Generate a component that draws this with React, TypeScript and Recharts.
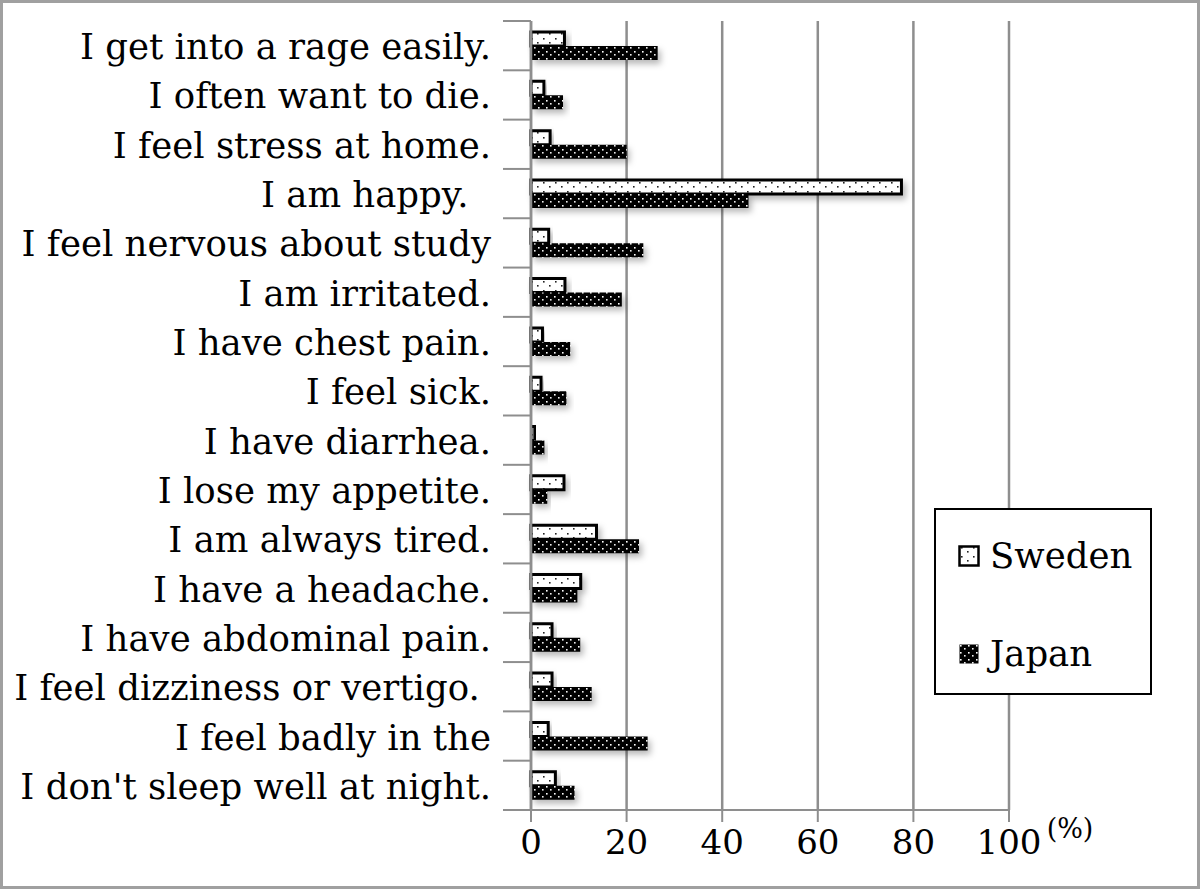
import { Bar, BarChart, CartesianGrid, Label, Legend, XAxis, YAxis } from "recharts";

const items = [
  "I get into a rage easily.",
  "I often want to die.",
  "I feel stress at home.",
  "I am happy.  ",
  "I feel nervous about study",
  "I am irritated.",
  "I have chest pain.",
  "I feel sick.",
  "I have diarrhea.",
  "I lose my appetite.",
  "I am always tired.",
  "I have a headache.",
  "I have abdominal pain.",
  "I feel dizziness or vertigo. ",
  "I feel badly in the",
  "I don't sleep well at night.",
];
const sweden = [7, 2.7, 4, 77.5, 3.7, 7.1, 2.4, 2.1, 0.8, 6.9, 13.7, 10.4, 4.4, 4.4, 3.6, 5.1];
const japan = [26.5, 6.7, 20, 45.5, 23.5, 19, 8.2, 7.4, 2.8, 3.4, 22.6, 9.7, 10.3, 12.7, 24.4, 9.1];
const xTicks = [0, 20, 40, 60, 80, 100];

const data = items.map((label, i) => ({ label, sweden: sweden[i], japan: japan[i] }));

const W = 1200;
const H = 889;
const TOP = 21;
const BOTTOM_AXIS = 60;
const BOTTOM_MARGIN = 19;
const BAND = (H - TOP - BOTTOM_AXIS - BOTTOM_MARGIN) / items.length;
const FONT = "'DejaVu Serif', serif";
const GRID = "#8e8e8e";

function CategoryTick(props: any) {
  const { x, y, payload, index } = props;
  const right = x + 40;
  return (
    <g>
      <text
        x={x}
        y={y + 1}
        textAnchor="end"
        dominantBaseline="central"
        fontSize={35.5}
        fontFamily={FONT}
        fill="#000"
        style={{ whiteSpace: "pre" }}
      >
        {payload.value}
      </text>
      <line x1={right - 28} x2={right} y1={y - BAND / 2} y2={y - BAND / 2} stroke={GRID} strokeWidth={2} />
      {index === items.length - 1 && (
        <line x1={right - 28} x2={right} y1={y + BAND / 2} y2={y + BAND / 2} stroke={GRID} strokeWidth={2} />
      )}
    </g>
  );
}

function LegendBox() {
  const rows = [
    { name: "Sweden", fill: "url(#swedenDots)", stroke: "#000" },
    { name: "Japan", fill: "url(#japanDots)", stroke: "none" },
  ];
  return (
    <div style={{ fontFamily: FONT, fontSize: 35.5, color: "#000" }}>
      {rows.map((r, i) => (
        <div key={r.name} style={{ display: "flex", alignItems: "center", position: "absolute", left: 22, top: i === 0 ? 25 : 123 }}>
          <svg width={22} height={22} style={{ marginRight: 10 }}>
            <rect x={1.5} y={1.5} width={19} height={19} fill={r.fill} stroke={r.stroke} strokeWidth={2.5} />
          </svg>
          <span>{r.name}</span>
        </div>
      ))}
    </div>
  );
}

function PercentLabel(props: any) {
  const { viewBox } = props;
  return (
    <text x={viewBox.x + viewBox.width + 61} y={viewBox.y + 28} textAnchor="middle" fontSize={27} fontFamily={FONT} fill="#000">
      (%)
    </text>
  );
}

export default function App() {
  return (
    <div style={{ position: "absolute", left: 0, top: 0, width: W, height: H, background: "#fff" }}>
      <BarChart
        width={W}
        height={H}
        data={data}
        layout="vertical"
        barSize={14}
        barGap={0}
        margin={{ top: TOP, right: 191, left: 0, bottom: BOTTOM_MARGIN }}
      >
        <defs>
          <pattern id="swedenDots" width="12" height="9" patternUnits="userSpaceOnUse">
            <rect width="12" height="9" fill="#fff" />
            <rect x="3" y="2" width="1.6" height="1.6" fill="#222" />
            <rect x="9" y="6" width="1.6" height="1.6" fill="#222" />
          </pattern>
          <pattern id="japanDots" width="8" height="7" patternUnits="userSpaceOnUse">
            <rect width="8" height="7" fill="#000" />
            <rect x="2" y="2" width="1.6" height="1.6" fill="#fff" />
            <rect x="6" y="5" width="1.6" height="1.6" fill="#eee" />
          </pattern>
          <filter id="barShadow" x="-10%" y="-50%" width="130%" height="250%">
            <feDropShadow dx="3" dy="4" stdDeviation="3" floodColor="#000" floodOpacity="0.28" />
          </filter>
        </defs>
        <CartesianGrid horizontal={false} stroke={GRID} strokeWidth={2.5} />
        <XAxis
          type="number"
          domain={[0, 100]}
          ticks={xTicks}
          height={BOTTOM_AXIS}
          tickSize={12}
          tickMargin={8}
          stroke={GRID}
          strokeWidth={2}
          tick={{ fontSize: 34, fontFamily: FONT, fill: "#000" }}
        >
          <Label content={<PercentLabel />} />
        </XAxis>
        <YAxis
          type="category"
          dataKey="label"
          width={531}
          tickLine={false}
          tickSize={28}
          tickMargin={12}
          stroke={GRID}
          strokeWidth={2.5}
          interval={0}
          tick={<CategoryTick />}
        />
        <Legend
          layout="horizontal"
          verticalAlign="middle"
          content={<LegendBox />}
          wrapperStyle={{
            position: "absolute",
            left: 934,
            top: 508,
            width: 218,
            height: 187,
            border: "2.5px solid #000",
            background: "#fff",
            boxSizing: "border-box",
          }}
        />
        <Bar
          dataKey="sweden"
          name="Sweden"
          fill="url(#swedenDots)"
          stroke="#000"
          strokeWidth={3}
          filter="url(#barShadow)"
          isAnimationActive={false}
        />
        <Bar
          dataKey="japan"
          name="Japan"
          fill="url(#japanDots)"
          filter="url(#barShadow)"
          isAnimationActive={false}
        />
      </BarChart>
      <div
        style={{
          position: "absolute",
          left: 0,
          top: 0,
          width: W,
          height: H,
          border: "3px solid #a0a0a0",
          boxSizing: "border-box",
          pointerEvents: "none",
        }}
      />
    </div>
  );
}
